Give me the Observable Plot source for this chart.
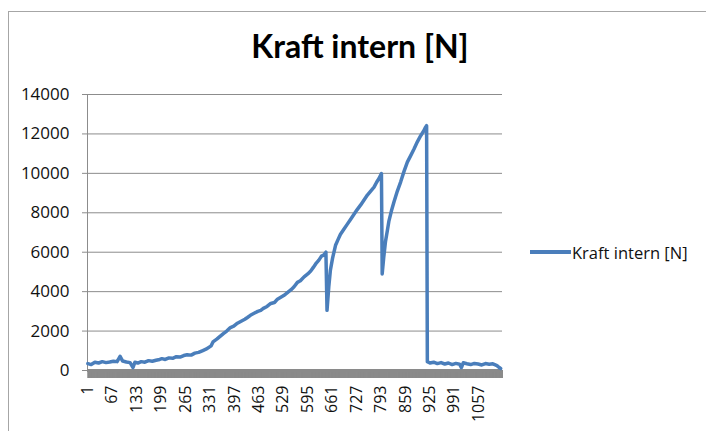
<!DOCTYPE html>
<html>
<head>
<meta charset="utf-8">
<script src="https://cdn.jsdelivr.net/npm/d3@7"></script>
<script src="https://cdn.jsdelivr.net/npm/@observablehq/plot@0.6"></script>
<style>
  html, body { margin: 0; padding: 0; background: #fff; }
  #chart { position: relative; width: 706px; height: 431px; overflow: hidden; background: #fff; font-family: "Open Sans", Lato, sans-serif; }
  #border-top { position: absolute; left: 8px; top: 11px; width: 698px; height: 0; border-top: 1px solid #a6a6a6; }
  #border-left { position: absolute; left: 8px; top: 11px; width: 0; height: 420px; border-left: 1px solid #a6a6a6; }
  #title { position: absolute; left: 0; top: 28px; width: 720px; text-align: center; font-family: Lato, sans-serif; font-weight: bold; font-size: 32px; line-height: 36px; color: #000; }
  #legend { position: absolute; left: 530px; top: 241px; height: 22px; display: flex; align-items: center; font-size: 16.5px; color: #111; }
  #legend .swatch { width: 41px; height: 4px; background: #4a7ebb; margin-right: 1px; }
  #plot { position: absolute; left: 0; top: 0; }
</style>
</head>
<body>
<div id="chart">
  <div id="border-top"></div>
  <div id="border-left"></div>
  <div id="title">Kraft intern [N]</div>
  <div id="legend"><div class="swatch"></div><span>Kraft intern [N]</span></div>
  <div id="plot"></div>
</div>
<script>
// Sample index (category number)
const sampleIndex = [
  1, 10, 20, 30, 40, 50, 60, 70, 80, 88, 95, 105, 115, 123, 128, 136, 145, 155, 165, 175,
  185, 195, 201, 210, 220, 230, 240, 250, 260, 269, 280, 290, 300, 310, 320, 334, 339, 350, 367, 376,
  386, 395, 405, 415, 425, 432, 440, 450, 460, 468, 475, 485, 495, 505, 512, 521, 530, 540, 550, 558,
  567, 575, 585, 595, 603, 610, 618, 625, 632, 638, 644, 647, 652, 656, 662, 670, 677, 683, 692, 701,
  710, 719, 728, 738, 747, 756, 765, 774, 781, 787, 794, 796, 800, 805, 810, 814, 821, 828, 837, 846,
  855, 864, 873, 882, 891, 900, 908, 912, 916, 918, 925, 935, 945, 955, 965, 975, 985, 995, 1005, 1010,
  1015, 1025, 1035, 1045, 1055, 1065, 1075, 1085, 1095, 1100, 1106, 1112, 1116
];
// Kraft intern [N] values
const kraftValues = [
  350, 300, 420, 380, 450, 400, 430, 470, 450, 720, 480, 430, 400, 150, 420, 380, 450, 420, 500, 470,
  520, 560, 600, 560, 640, 620, 700, 680, 760, 800, 780, 880, 920, 1000, 1080, 1250, 1450, 1600, 1870, 2000,
  2180, 2250, 2400, 2500, 2600, 2690, 2800, 2900, 3000, 3050, 3150, 3250, 3400, 3450, 3600, 3700, 3800, 3950, 4100, 4250,
  4470, 4550, 4750, 4900, 5050, 5230, 5450, 5600, 5800, 5850, 6000, 3050, 4300, 5070, 5700, 6350, 6650, 6900, 7150, 7400,
  7650, 7900, 8150, 8400, 8650, 8900, 9100, 9300, 9550, 9730, 9990, 4900, 5700, 6550, 7100, 7560, 8100, 8560, 9100, 9570,
  10100, 10570, 10900, 11240, 11600, 11910, 12150, 12300, 12420, 450, 380, 420, 350, 400, 330, 380, 300, 360, 320, 150,
  390, 340, 300, 360, 330, 280, 350, 320, 340, 300, 250, 150, 100
];
const categoryCount = 1121;
const xTickLabels = [1, 67, 133, 199, 265, 331, 397, 463, 529, 595, 661, 727, 793, 859, 925, 991, 1057];
const yTickValues = [0, 2000, 4000, 6000, 8000, 10000, 12000, 14000];

const data = sampleIndex.map((x, i) => ({x, y: kraftValues[i]}));
const categories = d3.range(1, categoryCount + 1);
const labelSet = new Set(xTickLabels);

const chart = Plot.plot({
  width: 706,
  height: 431,
  marginLeft: 87,
  marginRight: 204,
  marginTop: 94,
  marginBottom: 61,
  style: {fontFamily: "'Open Sans', Lato, sans-serif", fontSize: "16px", color: "#111", background: "transparent", overflow: "visible"},
  x: {type: "linear", domain: [0, categoryCount], label: null},
  y: {domain: [0, 14000], label: null},
  marks: [
    Plot.gridY(yTickValues, {stroke: "#8c8c8c", strokeOpacity: 1}),
    Plot.ruleX([0], {stroke: "#8c8c8c"}),
    Plot.axisY(yTickValues, {tickSize: 5, tickPadding: 13, stroke: "#8c8c8c", fontSize: 17, label: null, tickFormat: d => String(d)}),
    Plot.axisX(categories, {tickSize: 8, tickPadding: 7, tickRotate: -90, stroke: "#8a8a8a", strokeWidth: 1, fontSize: 16, label: null,
      tickFormat: d => labelSet.has(d) ? String(d) : ""}),
    Plot.ruleY([0], {stroke: "#8a8a8a", strokeWidth: 3}),
    Plot.line(data, {x: "x", y: "y", stroke: "#4a7ebb", strokeWidth: 3.5, strokeLinejoin: "round"})
  ]
});
document.getElementById("plot").appendChild(chart);
</script>
</body>
</html>
